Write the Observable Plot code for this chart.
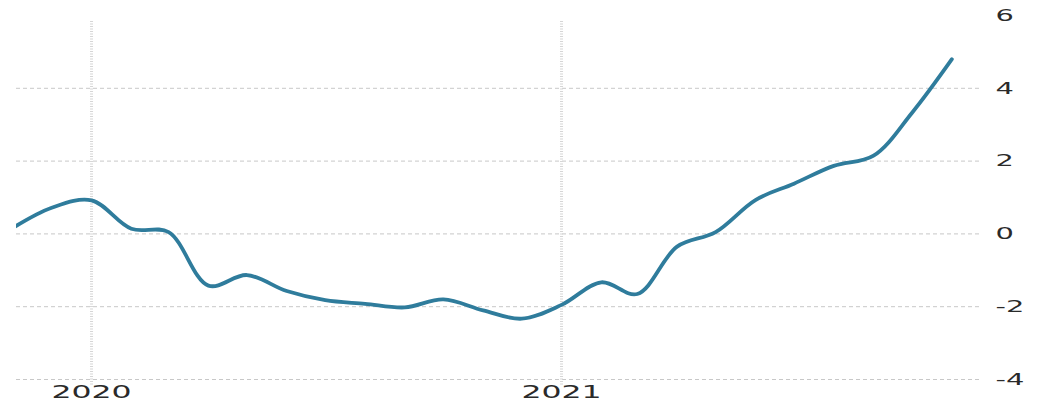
<!DOCTYPE html>
<html><head><meta charset="utf-8">
<script src="https://cdn.jsdelivr.net/npm/d3@7"></script>
<script src="https://cdn.jsdelivr.net/npm/@observablehq/plot@0.6"></script>
<style>
html,body{margin:0;padding:0;background:#fff;overflow:hidden;}
#chart svg{display:block;font-family:"DejaVu Sans",sans-serif;}
</style>
</head><body><div id="chart"></div>
<script>
const months = ["2019-11","2019-12","2020-01","2020-02","2020-03","2020-04","2020-05","2020-06","2020-07","2020-08","2020-09","2020-10","2020-11","2020-12","2021-01","2021-02","2021-03","2021-04","2021-05","2021-06","2021-07","2021-08","2021-09","2021-10","2021-11"];
const values = [0.17,0.72,0.92,0.14,0.05,-1.42,-1.13,-1.57,-1.82,-1.92,-2.02,-1.8,-2.1,-2.33,-1.95,-1.33,-1.65,-0.35,0.05,0.93,1.38,1.87,2.15,3.33,4.8];
const yTicks = [-4,-2,0,2,4,6];
const gridTicks = [-4,-2,0,2,4];
const yearTicks = ["2020-01-01","2021-01-01"];

const parse = d3.utcParse("%Y-%m-%d");
const data = months.map((m,i)=>({date: parse(m+"-01"), value: values[i]}));
const years = yearTicks.map(parse);

const chart = Plot.plot({
  width: 1041,
  height: 403,
  marginLeft: 16,
  marginRight: 59,
  marginTop: 15,
  marginBottom: 24,
  style: {background: "#fff", color: "#2a2a2a"},
  x: {type: "utc", domain: [parse("2019-11-01"), parse("2021-11-01")], range: [12.7, 951.4]},
  y: {domain: [-4, 6]},
  marks: [
    Plot.ruleY(gridTicks, {stroke: "#c8c8c8", strokeWidth: 1, strokeDasharray: "4,3"}),
    Plot.ruleX(years, {y1: -4.15, y2: 5.85, stroke: "#d6d6d6", strokeWidth: 3, strokeDasharray: "1,1.5"}),
    Plot.line(data, {x: "date", y: "value", curve: "catmull-rom", stroke: "#2f7c9c", strokeWidth: 3.8, clip: true}),
    Plot.axisX({ticks: years, tickFormat: d3.utcFormat("%Y"), tickSize: 0, tickPadding: 6, fontSize: 18, label: null}),
    Plot.axisY({anchor: "right", ticks: yTicks, tickFormat: d => String(d), tickSize: 0, tickPadding: 13, fontSize: 16.5, label: null})
  ]
});
document.getElementById("chart").appendChild(chart);
// labels in the reference are horizontally stretched
d3.select(chart).selectAll("g[aria-label='x-axis tick label'] text, g[aria-label='y-axis tick label'] text").each(function(){
  const w = this.getComputedTextLength();
  this.setAttribute("textLength", w * 1.75);
  this.setAttribute("lengthAdjust", "spacingAndGlyphs");
});
</script>
</body></html>
